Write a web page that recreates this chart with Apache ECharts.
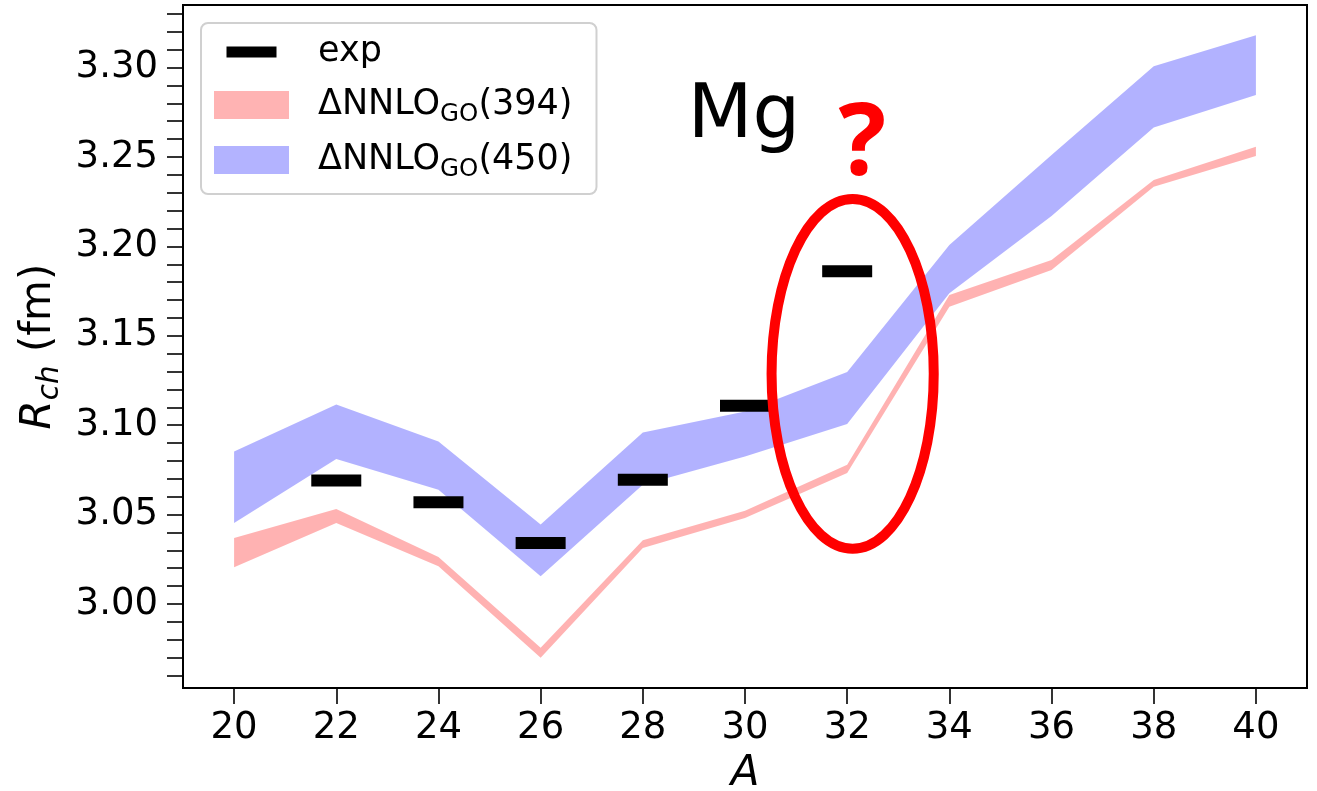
<!DOCTYPE html>
<html>
<head>
<meta charset="utf-8">
<script src="https://cdn.jsdelivr.net/npm/echarts@6/dist/echarts.min.js"></script>
<style>
  html, body { margin: 0; padding: 0; background: #fff; }
  #chart { width: 1317px; height: 791px; }
</style>
</head>
<body>
<div id="chart"></div>
<script>
// mass numbers of the calculated Mg isotopes
var massNumbers = [20, 22, 24, 26, 28, 30, 32, 34, 36, 38, 40];
// DNNLO_GO(394) band, lower / upper edge (fm)
var nnlo394Low  = [3.0205, 3.0453, 3.0211, 2.9699, 3.0313, 3.0481, 3.0732, 3.1663, 3.1868, 3.2334, 3.2505];
var nnlo394High = [3.0369, 3.0531, 3.0263, 2.9755, 3.0356, 3.0522, 3.0779, 3.1728, 3.1924, 3.2371, 3.2557];
// DNNLO_GO(450) band, lower / upper edge (fm)
var nnlo450Low  = [3.0453, 3.0811, 3.0639, 3.0155, 3.0667, 3.0825, 3.1006, 3.1738, 3.2170, 3.2665, 3.2846];
var nnlo450High = [3.0853, 3.1116, 3.0909, 3.0444, 3.0959, 3.1077, 3.1297, 3.2008, 3.2511, 3.3008, 3.3181];
// experimental charge radii
var expMass   = [22, 24, 26, 28, 30, 32];
var expRadius = [3.0691, 3.0569, 3.0341, 3.0695, 3.1109, 3.1861];
// ticks
var xTickValues  = [20, 22, 24, 26, 28, 30, 32, 34, 36, 38, 40];
var yLabelValues = [3.00, 3.05, 3.10, 3.15, 3.20, 3.25, 3.30];
var yTickValues  = [2.96, 2.97, 2.98, 2.99, 3.00, 3.01, 3.02, 3.03, 3.04, 3.05, 3.06, 3.07, 3.08, 3.09,
                    3.10, 3.11, 3.12, 3.13, 3.14, 3.15, 3.16, 3.17, 3.18, 3.19, 3.20, 3.21, 3.22, 3.23,
                    3.24, 3.25, 3.26, 3.27, 3.28, 3.29, 3.30, 3.31, 3.32, 3.33];

var FONT = 'DejaVu Sans';
var name394 = 'ΔNNLO_GO(394)';
var name450 = 'ΔNNLO_GO(450)';

function pairs(xs, ys) {
  var out = [];
  for (var i = 0; i < xs.length; i++) out.push([xs[i], ys[i]]);
  return out;
}

// one filled polygon between the lower and upper edge of a band
function bandRenderer(lo, hi, fill) {
  return function (params, api) {
    if (params.dataIndex !== 0) return null;
    var pts = [];
    for (var i = 0; i < massNumbers.length; i++) pts.push(api.coord([massNumbers[i], hi[i]]));
    for (var j = massNumbers.length - 1; j >= 0; j--) pts.push(api.coord([massNumbers[j], lo[j]]));
    return { type: 'polygon', shape: { points: pts }, style: { fill: fill, stroke: null } };
  };
}

var chart = echarts.init(document.getElementById('chart'), null, { renderer: 'canvas' });

chart.setOption({
  animation: false,
  backgroundColor: '#fff',
  grid: {
    left: 183, right: 10, top: 5, bottom: 103,
    outerBoundsMode: 'none',
    containLabel: false,
    show: true, borderColor: '#000', borderWidth: 2
  },
  legend: {
    orient: 'vertical',
    left: 201, top: 23,
    padding: [9, 24, 12, 13],
    itemGap: 11,
    itemWidth: 75, itemHeight: 28,
    backgroundColor: '#fff',
    borderColor: '#d0d0d0', borderWidth: 2, borderRadius: 7,
    selectedMode: false,
    textStyle: {
      fontFamily: FONT, fontSize: 35, color: '#000', lineHeight: 40,
      padding: [0, 0, 0, 24],
      rich: {
        t: { fontFamily: FONT, fontSize: 35, lineHeight: 40, color: '#000' },
        s: { fontFamily: FONT, fontSize: 24.5, lineHeight: 20, padding: [19, 0, 0, 0], color: '#000' }
      }
    },
    formatter: function (name) {
      if (name === 'exp') return 'exp';
      var p = name.split('_GO');
      return '{t|' + p[0] + '}{s|GO}{t|' + p[1] + '}';
    },
    data: [
      { name: 'exp', icon: 'path://M0,0M75,28M12.5,8.5h50v11h-50z', itemStyle: { color: '#000', borderWidth: 0, opacity: 1 } },
      { name: name394, icon: 'rect', itemStyle: { color: '#ffb3b3', borderWidth: 0 } },
      { name: name450, icon: 'rect', itemStyle: { color: '#b3b3ff', borderWidth: 0 } }
    ]
  },
  xAxis: {
    type: 'value',
    min: 19, max: 41,
    name: 'A',
    nameLocation: 'middle',
    nameGap: 65,
    nameTextStyle: { fontFamily: FONT, fontSize: 42, fontStyle: 'italic', color: '#000' },
    axisLine: { show: true, onZero: false, lineStyle: { color: '#000', width: 2 } },
    axisTick: { show: true, inside: false, length: 16, lineStyle: { color: '#000', width: 1.6 }, customValues: xTickValues },
    axisLabel: { fontFamily: FONT, fontSize: 37, color: '#000', margin: 22, customValues: xTickValues },
    splitLine: { show: false }
  },
  yAxis: {
    type: 'value',
    min: 2.953, max: 3.335,
    name: '{r|R}{s|ch}{n| (fm)}',
    nameLocation: 'middle',
    nameRotate: 90,
    nameGap: 121,
    nameTextStyle: {
      fontFamily: FONT, fontSize: 42, color: '#000',
      rich: {
        r: { fontFamily: FONT, fontSize: 42, fontStyle: 'italic', lineHeight: 44, color: '#000' },
        s: { fontFamily: FONT, fontSize: 29.4, fontStyle: 'italic', lineHeight: 20, padding: [23, 0, 0, 0], color: '#000' },
        n: { fontFamily: FONT, fontSize: 42, lineHeight: 44, color: '#000' }
      }
    },
    axisLine: { show: true, onZero: false, lineStyle: { color: '#000', width: 2 } },
    axisTick: { show: true, inside: false, length: 16, lineStyle: { color: '#000', width: 1.6 }, customValues: yTickValues },
    axisLabel: {
      fontFamily: FONT, fontSize: 37, color: '#000', margin: 25,
      customValues: yLabelValues,
      formatter: function (v) { return v.toFixed(2); }
    },
    splitLine: { show: false }
  },
  series: [
    {
      name: name394, type: 'custom',
      data: pairs(massNumbers, nnlo394High),
      renderItem: bandRenderer(nnlo394Low, nnlo394High, 'rgba(255,0,0,0.3)'),
      itemStyle: { color: '#ffb3b3' },
      silent: true, z: 2
    },
    {
      name: name450, type: 'custom',
      data: pairs(massNumbers, nnlo450High),
      renderItem: bandRenderer(nnlo450Low, nnlo450High, 'rgba(0,0,255,0.3)'),
      itemStyle: { color: '#b3b3ff' },
      silent: true, z: 3
    },
    {
      name: 'exp', type: 'scatter',
      data: pairs(expMass, expRadius),
      symbol: 'rect', symbolSize: [50, 12],
      itemStyle: { color: '#000', opacity: 1 },
      z: 5
    }
  ]
});

// annotations placed in data coordinates
function px(x, y) { return chart.convertToPixel({ gridIndex: 0 }, [x, y]); }
var ellC = px(32.107, 3.1287);
var ellE = px(32.107 + 1.587, 3.1287 + 0.0978);
var mgPos = px(28.878, 3.2720);
var qPos = px(32.298, 3.2561);

chart.setOption({
  graphic: [
    {
      type: 'ellipse', z: 100,
      shape: { cx: ellC[0], cy: ellC[1], rx: ellE[0] - ellC[0], ry: ellC[1] - ellE[1] },
      style: { fill: 'none', stroke: '#ff0000', lineWidth: 10 }
    },
    {
      type: 'text', z: 100,
      x: mgPos[0], y: mgPos[1],
      style: { text: 'Mg', fill: '#000', font: '75px "DejaVu Sans"', textAlign: 'left', textVerticalAlign: 'middle' }
    },
    {
      type: 'text', z: 100,
      x: qPos[0], y: qPos[1],
      style: { text: '?', fill: '#ff0000', font: 'bold 100px "Open Sans"', textAlign: 'center', textVerticalAlign: 'middle' }
    }
  ]
});
</script>
</body>
</html>
